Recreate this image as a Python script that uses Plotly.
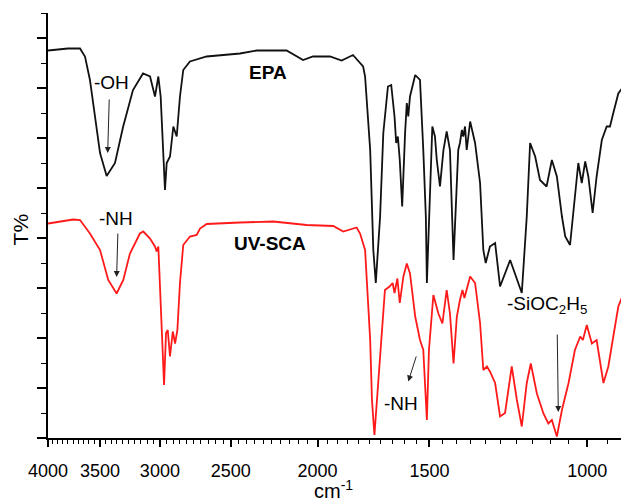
import math
import plotly.graph_objects as go

# EPA (black) spectrum: wavenumber (cm-1) and transmittance (arbitrary offset units)
epa_wn = [4000, 3800, 3684, 3637, 3591, 3545, 3499, 3440, 3367, 3298, 3215, 3133, 3077, 3038, 3025, 3012,
          2994, 2974, 2961, 2948, 2923, 2898, 2873, 2849, 2825, 2777, 2660, 2442, 2339, 2166, 2076,
          2024, 1937, 1880, 1826, 1779, 1770, 1747, 1733, 1722, 1703, 1689, 1669, 1655, 1641, 1634,
          1627, 1619, 1609, 1597, 1590, 1584, 1577, 1556, 1537, 1524, 1514, 1510, 1502, 1489, 1479,
          1472, 1460, 1447, 1435, 1423, 1410, 1398, 1393, 1387, 1380, 1375, 1369, 1363, 1351, 1334,
          1317, 1306, 1298, 1284, 1267, 1251, 1219, 1183, 1168, 1158, 1143, 1129, 1110, 1095, 1081,
          1067, 1058, 1045, 1032, 1023, 1014, 1005, 997, 986, 976, 963, 951, 943, 935, 923, 911, 902]
epa_t = [7.75, 7.79, 7.79, 7.63, 7.16, 6.43, 5.70, 5.24, 5.5, 6.22, 6.96, 7.29, 7.23, 6.83, 7.0, 7.23,
         6.83, 5.5, 4.96, 5.5, 5.63, 6.23, 6.03, 6.83, 7.36, 7.53, 7.63, 7.69, 7.75, 7.75, 7.56,
         7.63, 7.63, 7.55, 7.66, 7.43, 7.23, 5.76, 3.76, 3.1, 4.43, 6.1, 7.03, 7.06, 6.43, 5.9,
         6.03, 5.56, 4.63, 6.1, 6.7, 6.43, 6.83, 7.26, 7.16, 5.76, 4.43, 3.1, 4.43, 6.23, 6.03,
         5.56, 5.03, 5.76, 6.13, 5.76, 3.56, 5.1, 5.76, 5.9, 6.16, 6.03, 6.23, 5.76, 6.33, 5.9,
         5.1, 3.76, 3.5, 3.83, 3.9, 3.03, 3.56, 2.9, 4.43, 5.9, 5.63, 5.16, 5.03, 5.56, 5.23,
         4.43, 4.03, 3.86, 4.76, 5.5, 5.1, 5.53, 5.23, 4.5, 5.23, 5.96, 6.23, 6.23, 6.5, 6.89, 7.03, 7.26]

# UV-SCA (red) spectrum
sca_wn = [4000, 3749, 3684, 3591, 3499, 3426, 3353, 3296, 3240, 3158, 3131, 3077, 3038, 3025, 3012,
          2994, 2978, 2968, 2953, 2940, 2923, 2902, 2885, 2868, 2849, 2825, 2777, 2729, 2706, 2660,
          2442, 2242, 2057, 1921, 1872, 1809, 1793, 1770, 1747, 1739, 1728, 1711, 1696, 1682, 1662,
          1649, 1641, 1629, 1619, 1604, 1590, 1577, 1556, 1537, 1524, 1517, 1510, 1502, 1485, 1466,
          1451, 1435, 1423, 1410, 1398, 1387, 1378, 1371, 1351, 1334, 1317, 1306, 1294, 1284, 1267,
          1251, 1235, 1214, 1198, 1183, 1168, 1156, 1138, 1119, 1105, 1095, 1081, 1067, 1049, 1032,
          1018, 1011, 1001, 988, 976, 959, 947, 935, 923, 915, 903]
sca_t = [4.29, 4.37, 4.36, 4.09, 3.76, 3.16, 2.89, 3.16, 3.69, 4.09, 4.13, 3.99, 3.83, 3.73, 3.83,
         2.76, 1.76, 1.06, 2.1, 2.16, 1.63, 2.13, 1.89, 2.16, 3.1, 3.86, 4.03, 4.06, 4.19, 4.28,
         4.31, 4.33, 4.26, 4.24, 4.13, 4.21, 4.09, 3.76, 1.96, 0.76, 0.06, 1.1, 2.1, 2.96, 3.03,
         3.1, 2.9, 3.19, 2.7, 3.23, 3.49, 3.29, 2.43, 1.96, 1.76, 1.1, 0.36, 1.76, 2.86, 2.49,
         2.29, 2.96, 2.49, 1.49, 2.43, 2.76, 2.96, 2.8, 3.23, 3.1, 2.3, 1.36, 1.43, 1.33, 1.1,
         0.43, 0.5, 1.43, 0.76, 0.23, 1.1, 1.49, 0.89, 0.49, 0.29, 0.36, 0.03, 0.56, 1.1, 1.76,
         2.03, 1.96, 2.26, 1.89, 1.96, 1.1, 1.43, 2.03, 2.63, 2.8, 2.93]

x_major = [4000, 3500, 3000, 2500, 2000, 1500, 1000]
x_minor = [v for v in range(3950, 850, -50) if v not in x_major]
y_major = [0, 1, 2, 3, 4, 5, 6, 7, 8]
y_minor = [0.5, 1.5, 2.5, 3.5, 4.5, 5.5, 6.5, 7.5, 8.5]

FONT = "Arial, Liberation Sans, Helvetica, sans-serif"

fig = go.Figure()
fig.add_trace(go.Scatter(x=epa_wn, y=epa_t, mode="lines", name="EPA",
                         line=dict(color="#111111", width=1.8)))
fig.add_trace(go.Scatter(x=sca_wn, y=sca_t, mode="lines", name="UV-SCA",
                         line=dict(color="#ff1a1a", width=1.8)))

L = math.log10
texts = [
    ("<b>EPA</b>", 2272, 7.32, 19),
    ("<b>UV-SCA</b>", 2260, 3.9, 19),
    ("-OH", 3400, 7.12, 19),
    ("-NH", 3357, 4.4, 19),
    ("-NH", 1615, 0.7, 19),
    ("-SiOC<sub>2</sub>H<sub>5</sub>", 1109, 2.66, 19),
]
for t, xv, yv, fs in texts:
    fig.add_annotation(x=L(xv), y=yv, text=t, showarrow=False,
                       font=dict(family=FONT, size=fs, color="black"))

arrows = [  # (head_wn, head_y, tail_wn, tail_y)
    (3431, 5.7, 3417, 6.8),
    (3353, 3.22, 3342, 4.12),
    (1584, 1.13, 1550, 1.66),
    (1077, 0.52, 1080, 2.1),
]
for hx, hy, tx, ty in arrows:
    fig.add_annotation(x=L(hx), y=hy, ax=L(tx), ay=ty, xref="x", yref="y",
                       axref="x", ayref="y", text="", showarrow=True,
                       arrowhead=2, arrowsize=1.2, arrowwidth=1, arrowcolor="#222222")

# axis titles placed as paper annotations
fig.add_annotation(x=0.491, y=-0.12, xref="paper", yref="paper", text="cm<sup>-1</sup>",
                   showarrow=False, xanchor="center", yanchor="middle",
                   font=dict(family=FONT, size=20, color="black"))
fig.add_annotation(x=-0.047, y=0.49, xref="paper", yref="paper", text="T%", textangle=-90,
                   showarrow=False, xanchor="center", yanchor="middle",
                   font=dict(family=FONT, size=21, color="black"))

# the page body adds an 8px offset, so the figure is sized/margined to compensate
fig.update_layout(
    width=621, height=495,
    margin=dict(l=40, r=0, t=5, b=65, autoexpand=False),
    paper_bgcolor="white", plot_bgcolor="white",
    showlegend=False,
    font=dict(family=FONT, color="black"),
    xaxis=dict(
        type="log", range=[L(4000), L(898)], automargin=False,
        tickmode="array", tickvals=x_major, ticktext=[str(v) for v in x_major],
        ticks="outside", ticklen=7, tickwidth=1.5, tickcolor="black",
        minor=dict(tickmode="array", tickvals=x_minor, ticks="outside", ticklen=4,
                   tickwidth=1.2, tickcolor="black", showgrid=False),
        showline=True, linecolor="black", linewidth=2, showgrid=False, zeroline=False,
        tickfont=dict(family=FONT, size=18, color="black"),
        ticklabelstandoff=8,
    ),
    yaxis=dict(
        range=[0, 8.5], automargin=False,
        tickmode="array", tickvals=y_major, showticklabels=False,
        ticks="outside", ticklen=9, tickwidth=1.5, tickcolor="black",
        minor=dict(tickmode="array", tickvals=y_minor, ticks="outside", ticklen=5,
                   tickwidth=1.2, tickcolor="black", showgrid=False),
        showline=True, linecolor="black", linewidth=2, showgrid=False, zeroline=False,
    ),
)

fig.write_html("out.html")
